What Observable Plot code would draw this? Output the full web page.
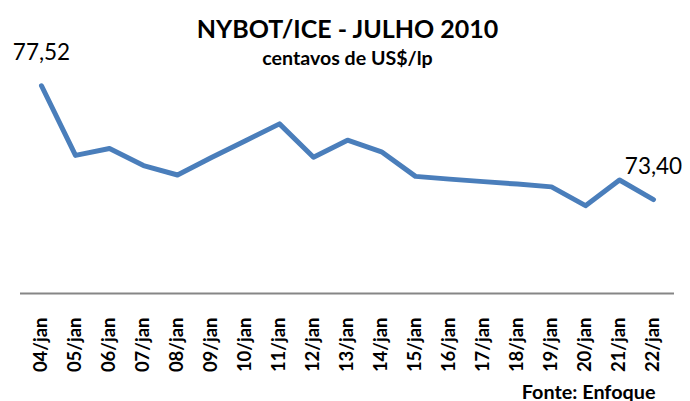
<!DOCTYPE html>
<html>
<head>
<meta charset="utf-8">
<script src="https://cdn.jsdelivr.net/npm/d3@7"></script>
<script src="https://cdn.jsdelivr.net/npm/@observablehq/plot@0.6"></script>
<style>
  html, body { margin: 0; padding: 0; background: #fff; }
  #chart svg { display: block; }
</style>
</head>
<body>
<div id="chart"></div>
<script>
const dates = ["04/jan","05/jan","06/jan","07/jan","08/jan","09/jan","10/jan","11/jan","12/jan","13/jan","14/jan","15/jan","16/jan","17/jan","18/jan","19/jan","20/jan","21/jan","22/jan"];
const prices = [77.52, 75.00, 75.25, 74.63, 74.29, 74.92, 75.53, 76.14, 74.93, 75.55, 75.13, 74.24, 74.14, 74.05, 73.96, 73.86, 73.18, 74.11, 73.40];
const labeledDates = ["04/jan", "22/jan"];
const title = "NYBOT/ICE - JULHO 2010";
const subtitle = "centavos de US$/lp";
const caption = "Fonte: Enfoque";

const data = dates.map((d, i) => ({date: d, price: prices[i]}));
const labels = data.filter(d => labeledDates.includes(d.date));
const fmt = v => v.toFixed(2).replace(".", ",");
const FONT = "Lato, 'Open Sans', sans-serif";

const chart = Plot.plot({
  width: 690,
  height: 401,
  marginTop: 72,
  marginBottom: 108,
  marginLeft: 20,
  marginRight: 16,
  style: {fontFamily: FONT, background: "#fff", color: "#000"},
  x: {type: "point", domain: dates, padding: 0.5, label: null},
  y: {domain: [70, 78], axis: null},
  marks: [
    Plot.ruleY([70], {stroke: "#868686", strokeWidth: 2}),
    Plot.axisX({tickRotate: -90, tickSize: 0, tickPadding: 24, fontSize: 18.5, fontWeight: "bold", fill: "#000", label: null}),
    Plot.line(data, {x: "date", y: "price", stroke: "#4a7ebb", strokeWidth: 5, strokeLinejoin: "round", strokeLinecap: "round"}),
    Plot.text(labels, {x: "date", y: "price", text: d => fmt(d.price), textAnchor: "middle", lineAnchor: "bottom", dx: 0, dy: -26, fontSize: 22.5, fill: "#000"}),
    Plot.text([title], {frameAnchor: "top", textAnchor: "middle", lineAnchor: "bottom", dy: -35, fontSize: 25, fontWeight: "bold", fill: "#000"}),
    Plot.text([subtitle], {frameAnchor: "top", textAnchor: "middle", lineAnchor: "bottom", dy: -8, fontSize: 19.6, fontWeight: "bold", fill: "#000"}),
    Plot.text([caption], {frameAnchor: "bottom-right", textAnchor: "end", lineAnchor: "bottom", dx: -19, dy: 105, fontSize: 19.8, fontWeight: "bold", fill: "#000"})
  ]
});
document.getElementById("chart").appendChild(chart);
</script>
</body>
</html>
